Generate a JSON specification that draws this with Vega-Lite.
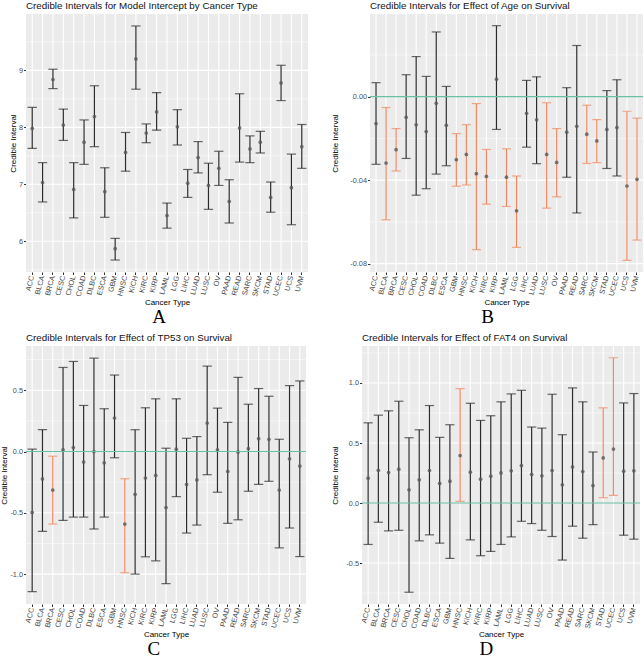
{
"$schema": "https://vega.github.io/schema/vega-lite/v6.json",
"padding": {"left": 0, "top": 0, "right": 2, "bottom": 0},
"datasets": {
"A": [
{"type":"ACC","lo":7.63,"mid":7.98,"hi":8.35,"sig":"no"},
{"type":"BLCA","lo":6.69,"mid":7.03,"hi":7.38,"sig":"no"},
{"type":"BRCA","lo":8.68,"mid":8.84,"hi":9.02,"sig":"no"},
{"type":"CESC","lo":7.77,"mid":8.04,"hi":8.32,"sig":"no"},
{"type":"CHOL","lo":6.41,"mid":6.91,"hi":7.38,"sig":"no"},
{"type":"COAD","lo":7.35,"mid":7.74,"hi":8.13,"sig":"no"},
{"type":"DLBC","lo":7.66,"mid":8.19,"hi":8.73,"sig":"no"},
{"type":"ESCA","lo":6.42,"mid":6.87,"hi":7.29,"sig":"no"},
{"type":"GBM","lo":5.67,"mid":5.87,"hi":6.05,"sig":"no"},
{"type":"HNSC","lo":7.23,"mid":7.56,"hi":7.91,"sig":"no"},
{"type":"KICH","lo":8.67,"mid":9.20,"hi":9.78,"sig":"no"},
{"type":"KIRC","lo":7.73,"mid":7.90,"hi":8.06,"sig":"no"},
{"type":"KIRP","lo":7.95,"mid":8.27,"hi":8.61,"sig":"no"},
{"type":"LAML","lo":6.23,"mid":6.45,"hi":6.67,"sig":"no"},
{"type":"LGG","lo":7.69,"mid":8.01,"hi":8.31,"sig":"no"},
{"type":"LIHC","lo":6.77,"mid":7.02,"hi":7.26,"sig":"no"},
{"type":"LUAD","lo":7.20,"mid":7.47,"hi":7.75,"sig":"no"},
{"type":"LUSC","lo":6.56,"mid":6.98,"hi":7.37,"sig":"no"},
{"type":"OV","lo":6.98,"mid":7.28,"hi":7.58,"sig":"no"},
{"type":"PAAD","lo":6.32,"mid":6.70,"hi":7.08,"sig":"no"},
{"type":"READ","lo":7.39,"mid":7.99,"hi":8.59,"sig":"no"},
{"type":"SARC","lo":7.38,"mid":7.62,"hi":7.85,"sig":"no"},
{"type":"SKCM","lo":7.55,"mid":7.74,"hi":7.93,"sig":"no"},
{"type":"STAD","lo":6.51,"mid":6.77,"hi":7.04,"sig":"no"},
{"type":"UCEC","lo":8.47,"mid":8.78,"hi":9.09,"sig":"no"},
{"type":"UCS","lo":6.29,"mid":6.94,"hi":7.53,"sig":"no"},
{"type":"UVM","lo":7.28,"mid":7.66,"hi":8.05,"sig":"no"}
],
"B": [
{"type":"ACC","lo":-0.0324,"mid":-0.0129,"hi":0.0067,"sig":"no"},
{"type":"BLCA","lo":-0.059,"mid":-0.0318,"hi":-0.0052,"sig":"yes"},
{"type":"BRCA","lo":-0.0356,"mid":-0.0254,"hi":-0.0153,"sig":"yes"},
{"type":"CESC","lo":-0.0296,"mid":-0.0099,"hi":0.0105,"sig":"no"},
{"type":"CHOL","lo":-0.0472,"mid":-0.0135,"hi":0.0192,"sig":"no"},
{"type":"COAD","lo":-0.0441,"mid":-0.0167,"hi":0.0097,"sig":"no"},
{"type":"DLBC","lo":-0.0371,"mid":-0.0032,"hi":0.031,"sig":"no"},
{"type":"ESCA","lo":-0.0331,"mid":-0.0137,"hi":0.0049,"sig":"no"},
{"type":"GBM","lo":-0.0429,"mid":-0.0302,"hi":-0.0177,"sig":"yes"},
{"type":"HNSC","lo":-0.0423,"mid":-0.0277,"hi":-0.0134,"sig":"yes"},
{"type":"KICH","lo":-0.0733,"mid":-0.0369,"hi":-0.0033,"sig":"yes"},
{"type":"KIRC","lo":-0.0515,"mid":-0.0382,"hi":-0.0253,"sig":"yes"},
{"type":"KIRP","lo":-0.0157,"mid":0.0084,"hi":0.034,"sig":"no"},
{"type":"LAML","lo":-0.0526,"mid":-0.0386,"hi":-0.025,"sig":"yes"},
{"type":"LGG","lo":-0.0722,"mid":-0.0547,"hi":-0.038,"sig":"yes"},
{"type":"LIHC","lo":-0.0242,"mid":-0.008,"hi":0.0078,"sig":"no"},
{"type":"LUAD","lo":-0.0321,"mid":-0.0111,"hi":0.0095,"sig":"no"},
{"type":"LUSC","lo":-0.0534,"mid":-0.0277,"hi":-0.0029,"sig":"yes"},
{"type":"OV","lo":-0.048,"mid":-0.0315,"hi":-0.0153,"sig":"yes"},
{"type":"PAAD","lo":-0.0386,"mid":-0.017,"hi":0.0043,"sig":"no"},
{"type":"READ","lo":-0.0557,"mid":-0.0142,"hi":0.0245,"sig":"no"},
{"type":"SARC","lo":-0.032,"mid":-0.018,"hi":-0.0041,"sig":"yes"},
{"type":"SKCM","lo":-0.0316,"mid":-0.0212,"hi":-0.011,"sig":"yes"},
{"type":"STAD","lo":-0.0344,"mid":-0.0157,"hi":0.0029,"sig":"no"},
{"type":"UCEC","lo":-0.038,"mid":-0.0148,"hi":0.0081,"sig":"no"},
{"type":"UCS","lo":-0.0784,"mid":-0.0428,"hi":-0.007,"sig":"yes"},
{"type":"UVM","lo":-0.0687,"mid":-0.0396,"hi":-0.0103,"sig":"yes"}
],
"C": [
{"type":"ACC","lo":-1.143,"mid":-0.497,"hi":0.019,"sig":"no"},
{"type":"BLCA","lo":-0.651,"mid":-0.224,"hi":0.178,"sig":"no"},
{"type":"BRCA","lo":-0.592,"mid":-0.314,"hi":-0.038,"sig":"yes"},
{"type":"CESC","lo":-0.562,"mid":0.014,"hi":0.686,"sig":"no"},
{"type":"CHOL","lo":-0.535,"mid":0.032,"hi":0.735,"sig":"no"},
{"type":"COAD","lo":-0.535,"mid":-0.086,"hi":0.376,"sig":"no"},
{"type":"DLBC","lo":-0.632,"mid":0.0,"hi":0.762,"sig":"no"},
{"type":"ESCA","lo":-0.535,"mid":-0.092,"hi":0.349,"sig":"no"},
{"type":"GBM","lo":-0.051,"mid":0.273,"hi":0.624,"sig":"no"},
{"type":"HNSC","lo":-0.989,"mid":-0.592,"hi":-0.222,"sig":"yes"},
{"type":"KICH","lo":-1.0,"mid":-0.349,"hi":0.178,"sig":"no"},
{"type":"KIRC","lo":-0.859,"mid":-0.216,"hi":0.357,"sig":"no"},
{"type":"KIRP","lo":-0.892,"mid":-0.195,"hi":0.43,"sig":"no"},
{"type":"LAML","lo":-1.078,"mid":-0.457,"hi":0.027,"sig":"no"},
{"type":"LGG","lo":-0.368,"mid":0.019,"hi":0.43,"sig":"no"},
{"type":"LIHC","lo":-0.665,"mid":-0.268,"hi":0.108,"sig":"no"},
{"type":"LUAD","lo":-0.6,"mid":-0.232,"hi":0.122,"sig":"no"},
{"type":"LUSC","lo":-0.189,"mid":0.232,"hi":0.697,"sig":"no"},
{"type":"OV","lo":-0.332,"mid":0.014,"hi":0.354,"sig":"no"},
{"type":"PAAD","lo":-0.586,"mid":-0.162,"hi":0.238,"sig":"no"},
{"type":"READ","lo":-0.557,"mid":-0.003,"hi":0.605,"sig":"no"},
{"type":"SARC","lo":-0.324,"mid":0.024,"hi":0.386,"sig":"no"},
{"type":"SKCM","lo":-0.268,"mid":0.105,"hi":0.514,"sig":"no"},
{"type":"STAD","lo":-0.243,"mid":0.1,"hi":0.451,"sig":"no"},
{"type":"UCEC","lo":-0.786,"mid":-0.314,"hi":0.1,"sig":"no"},
{"type":"UCS","lo":-0.624,"mid":-0.059,"hi":0.538,"sig":"no"},
{"type":"UVM","lo":-0.857,"mid":-0.119,"hi":0.576,"sig":"no"}
],
"D": [
{"type":"ACC","lo":-0.345,"mid":0.207,"hi":0.668,"sig":"no"},
{"type":"BLCA","lo":-0.16,"mid":0.273,"hi":0.732,"sig":"no"},
{"type":"BRCA","lo":-0.232,"mid":0.254,"hi":0.768,"sig":"no"},
{"type":"CESC","lo":-0.227,"mid":0.282,"hi":0.848,"sig":"no"},
{"type":"CHOL","lo":-0.743,"mid":0.11,"hi":0.544,"sig":"no"},
{"type":"COAD","lo":-0.315,"mid":0.193,"hi":0.61,"sig":"no"},
{"type":"DLBC","lo":-0.265,"mid":0.271,"hi":0.812,"sig":"no"},
{"type":"ESCA","lo":-0.334,"mid":0.163,"hi":0.547,"sig":"no"},
{"type":"GBM","lo":-0.461,"mid":0.182,"hi":0.652,"sig":"no"},
{"type":"HNSC","lo":0.014,"mid":0.395,"hi":0.953,"sig":"yes"},
{"type":"KICH","lo":-0.307,"mid":0.257,"hi":0.831,"sig":"no"},
{"type":"KIRC","lo":-0.439,"mid":0.199,"hi":0.688,"sig":"no"},
{"type":"KIRP","lo":-0.403,"mid":0.224,"hi":0.727,"sig":"no"},
{"type":"LAML","lo":-0.345,"mid":0.251,"hi":0.843,"sig":"no"},
{"type":"LGG","lo":-0.282,"mid":0.268,"hi":0.909,"sig":"no"},
{"type":"LIHC","lo":-0.152,"mid":0.312,"hi":0.939,"sig":"no"},
{"type":"LUAD","lo":-0.171,"mid":0.238,"hi":0.633,"sig":"no"},
{"type":"LUSC","lo":-0.227,"mid":0.227,"hi":0.624,"sig":"no"},
{"type":"OV","lo":-0.279,"mid":0.271,"hi":0.906,"sig":"no"},
{"type":"PAAD","lo":-0.475,"mid":0.152,"hi":0.569,"sig":"no"},
{"type":"READ","lo":-0.193,"mid":0.301,"hi":0.959,"sig":"no"},
{"type":"SARC","lo":-0.293,"mid":0.262,"hi":0.843,"sig":"no"},
{"type":"SKCM","lo":-0.18,"mid":0.146,"hi":0.425,"sig":"no"},
{"type":"STAD","lo":0.044,"mid":0.376,"hi":0.793,"sig":"yes"},
{"type":"UCEC","lo":0.064,"mid":0.45,"hi":1.21,"sig":"yes"},
{"type":"UCS","lo":-0.268,"mid":0.265,"hi":0.834,"sig":"no"},
{"type":"UVM","lo":-0.301,"mid":0.268,"hi":0.912,"sig":"no"}
]
},
"config": {
"font": "Liberation Sans",
"view": {"fill": "#EBEBEB", "stroke": null},
"axis": {"domain": false, "grid": false, "tickColor": "#333333", "tickSize": 2.5, "labelColor": "#4D4D4D", "labelFontSize": 7.3, "titleFontSize": 8, "titleFontWeight": "normal", "titleColor": "#000000", "labelPadding": 1, "titlePadding": 2, "labelOverlap": false},
"axisY": {"titlePadding": 1},
"title": {"fontSize": 9.8, "fontWeight": "normal", "color": "#111111", "anchor": "start", "frame": "group", "offset": 3}
},
"columns": 2,
"align": "none",
"spacing": {"row": 5, "column": 22},
"concat": [
{"title": {"text": "A", "orient": "bottom", "anchor": "middle", "frame": "bounds", "font": "Liberation Serif", "fontSize": 19, "fontWeight": "normal", "color": "#000000", "offset": 1},
 "vconcat": [{
  "width": 282, "height": 258,
  "title": {"text": "Credible Intervals for Model Intercept by Cancer Type"},
  "data": {"name": "A"},
  "layer": [
   {"mark": {"type": "rule", "color": "#FFFFFF", "strokeWidth": 1.1}, "encoding": {"x": {"field": "type", "type": "nominal", "sort": null, "scale": {"paddingInner": 0, "paddingOuter": 0.1}, "axis": {"title": "Cancer Type", "labelAngle": -75, "labelAlign": "right", "labelBaseline": "middle", "bandPosition": 0.5}}}},
   {"data": {"values": [{}]}, "mark": {"type": "rule", "color": "#FFFFFF", "strokeWidth": 0.5}, "encoding": {"y": {"datum": 5.5}}},
   {"data": {"values": [{}]}, "mark": {"type": "rule", "color": "#FFFFFF", "strokeWidth": 1.1}, "encoding": {"y": {"datum": 6}}},
   {"data": {"values": [{}]}, "mark": {"type": "rule", "color": "#FFFFFF", "strokeWidth": 0.5}, "encoding": {"y": {"datum": 6.5}}},
   {"data": {"values": [{}]}, "mark": {"type": "rule", "color": "#FFFFFF", "strokeWidth": 1.1}, "encoding": {"y": {"datum": 7}}},
   {"data": {"values": [{}]}, "mark": {"type": "rule", "color": "#FFFFFF", "strokeWidth": 0.5}, "encoding": {"y": {"datum": 7.5}}},
   {"data": {"values": [{}]}, "mark": {"type": "rule", "color": "#FFFFFF", "strokeWidth": 1.1}, "encoding": {"y": {"datum": 8}}},
   {"data": {"values": [{}]}, "mark": {"type": "rule", "color": "#FFFFFF", "strokeWidth": 0.5}, "encoding": {"y": {"datum": 8.5}}},
   {"data": {"values": [{}]}, "mark": {"type": "rule", "color": "#FFFFFF", "strokeWidth": 1.1}, "encoding": {"y": {"datum": 9}}},
   {"data": {"values": [{}]}, "mark": {"type": "rule", "color": "#FFFFFF", "strokeWidth": 0.5}, "encoding": {"y": {"datum": 9.5}}},
   {"mark": {"type": "rule", "strokeWidth": 1.2}, "encoding": {
     "x": {"field": "type", "type": "nominal", "sort": null},
     "y": {"field": "lo", "type": "quantitative", "scale": {"domain": [5.46, 9.99], "nice": false, "zero": false},
       "axis": {"title": "Credible Interval", "values": [6, 7, 8, 9], "format": "d"}},
     "y2": {"field": "hi"},
     "color": {"field": "sig", "type": "nominal", "scale": {"domain": ["no", "yes"], "range": ["#2B2B2B", "#F0875F"]}, "legend": null}}},
   {"mark": {"type": "tick", "orient": "horizontal", "size": 9.3, "thickness": 1.2}, "encoding": {"x": {"field": "type", "type": "nominal", "sort": null}, "y": {"field": "lo", "type": "quantitative"}, "color": {"field": "sig", "type": "nominal", "legend": null}}},
   {"mark": {"type": "tick", "orient": "horizontal", "size": 9.3, "thickness": 1.2}, "encoding": {"x": {"field": "type", "type": "nominal", "sort": null}, "y": {"field": "hi", "type": "quantitative"}, "color": {"field": "sig", "type": "nominal", "legend": null}}},
   {"mark": {"type": "point", "filled": true, "size": 14, "color": "#595959", "opacity": 0.8}, "encoding": {"x": {"field": "type", "type": "nominal", "sort": null}, "y": {"field": "mid", "type": "quantitative"}}}
  ]
 }]
},
{"title": {"text": "B", "orient": "bottom", "anchor": "middle", "frame": "bounds", "font": "Liberation Serif", "fontSize": 19, "fontWeight": "normal", "color": "#000000", "offset": 1},
 "vconcat": [{
  "width": 273, "height": 258,
  "title": {"text": "Credible Intervals for Effect of Age on Survival"},
  "data": {"name": "B"},
  "layer": [
   {"mark": {"type": "rule", "color": "#FFFFFF", "strokeWidth": 1.1}, "encoding": {"x": {"field": "type", "type": "nominal", "sort": null, "scale": {"paddingInner": 0, "paddingOuter": 0.1}, "axis": {"title": "Cancer Type", "labelAngle": -75, "labelAlign": "right", "labelBaseline": "middle", "bandPosition": 0.5}}}},
   {"data": {"values": [{}]}, "mark": {"type": "rule", "color": "#FFFFFF", "strokeWidth": 1.1}, "encoding": {"y": {"datum": -0.08}}},
   {"data": {"values": [{}]}, "mark": {"type": "rule", "color": "#FFFFFF", "strokeWidth": 0.5}, "encoding": {"y": {"datum": -0.06}}},
   {"data": {"values": [{}]}, "mark": {"type": "rule", "color": "#FFFFFF", "strokeWidth": 1.1}, "encoding": {"y": {"datum": -0.04}}},
   {"data": {"values": [{}]}, "mark": {"type": "rule", "color": "#FFFFFF", "strokeWidth": 0.5}, "encoding": {"y": {"datum": -0.02}}},
   {"data": {"values": [{}]}, "mark": {"type": "rule", "color": "#FFFFFF", "strokeWidth": 0.5}, "encoding": {"y": {"datum": 0.02}}},
   {"mark": {"type": "rule", "strokeWidth": 1.2}, "encoding": {
     "x": {"field": "type", "type": "nominal", "sort": null},
     "y": {"field": "lo", "type": "quantitative", "scale": {"domain": [-0.084, 0.0396], "nice": false, "zero": false},
       "axis": {"title": "Credible Interval", "titlePadding": 10, "values": [-0.08, -0.04, 0],
         "labelExpr": "replace(format(datum.value, '.2f'), '\u2212', '-')"}},
     "y2": {"field": "hi"},
     "color": {"field": "sig", "type": "nominal", "scale": {"domain": ["no", "yes"], "range": ["#2B2B2B", "#F0875F"]}, "legend": null}}},
   {"mark": {"type": "tick", "orient": "horizontal", "size": 9, "thickness": 1.2}, "encoding": {"x": {"field": "type", "type": "nominal", "sort": null}, "y": {"field": "lo", "type": "quantitative"}, "color": {"field": "sig", "type": "nominal", "legend": null}}},
   {"mark": {"type": "tick", "orient": "horizontal", "size": 9, "thickness": 1.2}, "encoding": {"x": {"field": "type", "type": "nominal", "sort": null}, "y": {"field": "hi", "type": "quantitative"}, "color": {"field": "sig", "type": "nominal", "legend": null}}},
   {"mark": {"type": "point", "filled": true, "size": 14, "color": "#595959", "opacity": 0.8}, "encoding": {"x": {"field": "type", "type": "nominal", "sort": null}, "y": {"field": "mid", "type": "quantitative"}}},
   {"data": {"values": [{}]}, "mark": {"type": "rule", "color": "#66C2A5", "strokeWidth": 1.1}, "encoding": {"y": {"datum": 0}}}
  ]
 }]
},
{"title": {"text": "C", "orient": "bottom", "anchor": "middle", "frame": "bounds", "font": "Liberation Serif", "fontSize": 19, "fontWeight": "normal", "color": "#000000", "offset": 1},
 "vconcat": [{
  "width": 280, "height": 258,
  "title": {"text": "Credible Intervals for Effect of TP53 on Survival"},
  "data": {"name": "C"},
  "layer": [
   {"mark": {"type": "rule", "color": "#FFFFFF", "strokeWidth": 1.1}, "encoding": {"x": {"field": "type", "type": "nominal", "sort": null, "scale": {"paddingInner": 0, "paddingOuter": 0.1}, "axis": {"title": "Cancer Type", "labelAngle": -75, "labelAlign": "right", "labelBaseline": "middle", "bandPosition": 0.5}}}},
   {"data": {"values": [{}]}, "mark": {"type": "rule", "color": "#FFFFFF", "strokeWidth": 1.1}, "encoding": {"y": {"datum": -1}}},
   {"data": {"values": [{}]}, "mark": {"type": "rule", "color": "#FFFFFF", "strokeWidth": 0.5}, "encoding": {"y": {"datum": -0.75}}},
   {"data": {"values": [{}]}, "mark": {"type": "rule", "color": "#FFFFFF", "strokeWidth": 1.1}, "encoding": {"y": {"datum": -0.5}}},
   {"data": {"values": [{}]}, "mark": {"type": "rule", "color": "#FFFFFF", "strokeWidth": 0.5}, "encoding": {"y": {"datum": -0.25}}},
   {"data": {"values": [{}]}, "mark": {"type": "rule", "color": "#FFFFFF", "strokeWidth": 0.5}, "encoding": {"y": {"datum": 0.25}}},
   {"data": {"values": [{}]}, "mark": {"type": "rule", "color": "#FFFFFF", "strokeWidth": 1.1}, "encoding": {"y": {"datum": 0.5}}},
   {"data": {"values": [{}]}, "mark": {"type": "rule", "color": "#FFFFFF", "strokeWidth": 0.5}, "encoding": {"y": {"datum": 0.75}}},
   {"mark": {"type": "rule", "strokeWidth": 1.2}, "encoding": {
     "x": {"field": "type", "type": "nominal", "sort": null},
     "y": {"field": "lo", "type": "quantitative", "scale": {"domain": [-1.244, 0.861], "nice": false, "zero": false},
       "axis": {"title": "Credible Interval", "titlePadding": 1, "values": [-1, -0.5, 0, 0.5],
         "labelExpr": "replace(format(datum.value, '.1f'), '\u2212', '-')"}},
     "y2": {"field": "hi"},
     "color": {"field": "sig", "type": "nominal", "scale": {"domain": ["no", "yes"], "range": ["#2B2B2B", "#F0875F"]}, "legend": null}}},
   {"mark": {"type": "tick", "orient": "horizontal", "size": 9.2, "thickness": 1.2}, "encoding": {"x": {"field": "type", "type": "nominal", "sort": null}, "y": {"field": "lo", "type": "quantitative"}, "color": {"field": "sig", "type": "nominal", "legend": null}}},
   {"mark": {"type": "tick", "orient": "horizontal", "size": 9.2, "thickness": 1.2}, "encoding": {"x": {"field": "type", "type": "nominal", "sort": null}, "y": {"field": "hi", "type": "quantitative"}, "color": {"field": "sig", "type": "nominal", "legend": null}}},
   {"mark": {"type": "point", "filled": true, "size": 14, "color": "#595959", "opacity": 0.8}, "encoding": {"x": {"field": "type", "type": "nominal", "sort": null}, "y": {"field": "mid", "type": "quantitative"}}},
   {"data": {"values": [{}]}, "mark": {"type": "rule", "color": "#66C2A5", "strokeWidth": 1.1}, "encoding": {"y": {"datum": 0}}}
  ]
 }]
},
{"title": {"text": "D", "orient": "bottom", "anchor": "middle", "frame": "bounds", "font": "Liberation Serif", "fontSize": 19, "fontWeight": "normal", "color": "#000000", "offset": 1},
 "vconcat": [{
  "width": 278, "height": 258,
  "title": {"text": "Credible Intervals for Effect of FAT4 on Survival"},
  "data": {"name": "D"},
  "layer": [
   {"mark": {"type": "rule", "color": "#FFFFFF", "strokeWidth": 1.1}, "encoding": {"x": {"field": "type", "type": "nominal", "sort": null, "scale": {"paddingInner": 0, "paddingOuter": 0.1}, "axis": {"title": "Cancer Type", "labelAngle": -75, "labelAlign": "right", "labelBaseline": "middle", "bandPosition": 0.5}}}},
   {"data": {"values": [{}]}, "mark": {"type": "rule", "color": "#FFFFFF", "strokeWidth": 0.5}, "encoding": {"y": {"datum": -0.75}}},
   {"data": {"values": [{}]}, "mark": {"type": "rule", "color": "#FFFFFF", "strokeWidth": 1.1}, "encoding": {"y": {"datum": -0.5}}},
   {"data": {"values": [{}]}, "mark": {"type": "rule", "color": "#FFFFFF", "strokeWidth": 0.5}, "encoding": {"y": {"datum": -0.25}}},
   {"data": {"values": [{}]}, "mark": {"type": "rule", "color": "#FFFFFF", "strokeWidth": 0.5}, "encoding": {"y": {"datum": 0.25}}},
   {"data": {"values": [{}]}, "mark": {"type": "rule", "color": "#FFFFFF", "strokeWidth": 1.1}, "encoding": {"y": {"datum": 0.5}}},
   {"data": {"values": [{}]}, "mark": {"type": "rule", "color": "#FFFFFF", "strokeWidth": 0.5}, "encoding": {"y": {"datum": 0.75}}},
   {"data": {"values": [{}]}, "mark": {"type": "rule", "color": "#FFFFFF", "strokeWidth": 1.1}, "encoding": {"y": {"datum": 1}}},
   {"data": {"values": [{}]}, "mark": {"type": "rule", "color": "#FFFFFF", "strokeWidth": 0.5}, "encoding": {"y": {"datum": 1.25}}},
   {"mark": {"type": "rule", "strokeWidth": 1.2}, "encoding": {
     "x": {"field": "type", "type": "nominal", "sort": null},
     "y": {"field": "lo", "type": "quantitative", "scale": {"domain": [-0.841, 1.308], "nice": false, "zero": false},
       "axis": {"title": "Credible Interval", "titlePadding": 6, "values": [-0.5, 0, 0.5, 1],
         "labelExpr": "replace(format(datum.value, '.1f'), '\u2212', '-')"}},
     "y2": {"field": "hi"},
     "color": {"field": "sig", "type": "nominal", "scale": {"domain": ["no", "yes"], "range": ["#2B2B2B", "#F0875F"]}, "legend": null}}},
   {"mark": {"type": "tick", "orient": "horizontal", "size": 9.2, "thickness": 1.2}, "encoding": {"x": {"field": "type", "type": "nominal", "sort": null}, "y": {"field": "lo", "type": "quantitative"}, "color": {"field": "sig", "type": "nominal", "legend": null}}},
   {"mark": {"type": "tick", "orient": "horizontal", "size": 9.2, "thickness": 1.2}, "encoding": {"x": {"field": "type", "type": "nominal", "sort": null}, "y": {"field": "hi", "type": "quantitative"}, "color": {"field": "sig", "type": "nominal", "legend": null}}},
   {"mark": {"type": "point", "filled": true, "size": 14, "color": "#595959", "opacity": 0.8}, "encoding": {"x": {"field": "type", "type": "nominal", "sort": null}, "y": {"field": "mid", "type": "quantitative"}}},
   {"data": {"values": [{}]}, "mark": {"type": "rule", "color": "#66C2A5", "strokeWidth": 1.1}, "encoding": {"y": {"datum": 0}}}
  ]
 }]
}
]
}
